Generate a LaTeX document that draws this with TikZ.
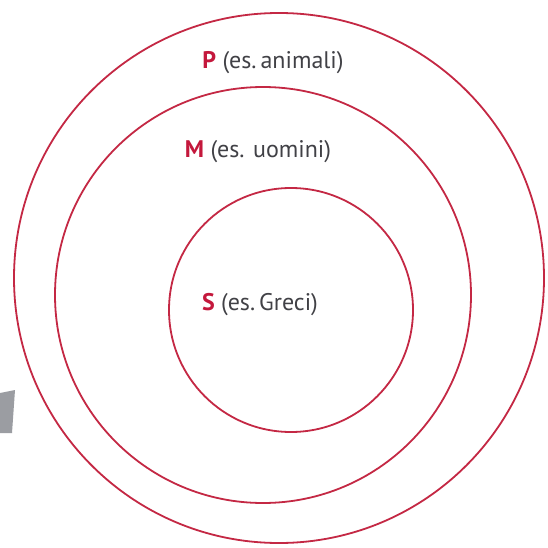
\documentclass[tikz,border=0pt]{standalone}
\usepackage{fontspec}
\setmainfont{PT Sans}
\definecolor{ringred}{RGB}{196,40,68}
\definecolor{lblred}{RGB}{196,24,60}
\definecolor{lblgray}{RGB}{65,65,70}
\definecolor{tabgray}{RGB}{155,157,162}
\tikzset{
  ring/.style={circle, draw=ringred, line width=1.8pt, inner sep=0pt},
  lbl/.style={font=\fontsize{24}{28}\selectfont, text=lblgray, inner sep=0pt}
}
\begin{document}
\begin{tikzpicture}[x=1pt,y=-1pt]
\useasboundingbox (0,0) rectangle (547,548);
\fill[white] (0,0) rectangle (547,548);
\fill[tabgray] (0,393) -- (15,390) -- (12,433) -- (0,433) -- cycle;
\node[ring, minimum size=530pt] (outer) at (279,278) {};
\node[ring, minimum size=416pt] (middle) at (263,295) {};
\node[ring, minimum size=244pt] (inner) at (291,310) {};
\node[lbl] (p) at (273,63) {\textcolor{lblred}{\textbf{P}} (es.\,animali)};
\node[lbl] (m) at (258,152) {\textcolor{lblred}{\textbf{M}} (es. uomini)};
\node[lbl] (s) at (260,305) {\textcolor{lblred}{\textbf{S}} (es.\,Greci)};
\end{tikzpicture}
\end{document}
